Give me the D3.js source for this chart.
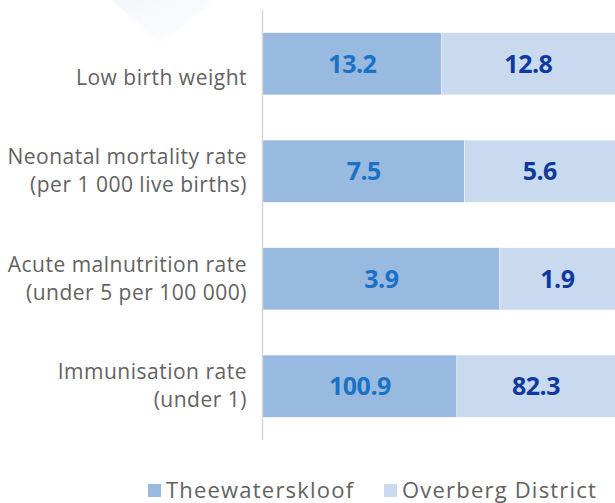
<!DOCTYPE html>
<html>
<head>
<meta charset="utf-8">
<script src="https://cdn.jsdelivr.net/npm/d3@7"></script>
<style>
  body { margin: 0; background: #fff; }
  svg { display: block; }
</style>
</head>
<body>
<div id="chart"></div>
<script>
// indicators (each label split into lines)
const categories = [
  'Low birth weight',
  'Neonatal mortality rate\n(per 1 000 live births)',
  'Acute malnutrition rate\n(under 5 per 100 000)',
  'Immunisation rate\n(under 1)'
];
const seriesNames = ['Theewaterskloof', 'Overberg District'];
const theewaterskloof = [13.2, 7.5, 3.9, 100.9];
const overberg = [12.8, 5.6, 1.9, 82.3];

const barColors = ['#98b9e0', '#c9d9ee'];
const valueColors = ['#1a72c4', '#0f3a9c'];

const width = 615, height = 503;
const axisX = 262.5;

const svg = d3.select('#chart').append('svg')
  .attr('width', width)
  .attr('height', height);

// faint watermark shape top left
const grad = svg.append('defs').append('linearGradient')
  .attr('id', 'wm').attr('x1', '0').attr('y1', '0').attr('x2', '1').attr('y2', '1');
grad.append('stop').attr('offset', '0').attr('stop-color', '#f3f6fa');
grad.append('stop').attr('offset', '1').attr('stop-color', '#ffffff');
svg.append('polygon')
  .attr('points', '112,0 215,0 160,44')
  .attr('fill', 'url(#wm)');

const rows = categories.map((c, i) => ({ cat: c, t: theewaterskloof[i], o: overberg[i] }));

const stack = d3.stack()
  .keys(['t', 'o'])
  .offset(d3.stackOffsetExpand);
const stacked = stack(rows);

const x = d3.scaleLinear().domain([0, 1]).range([263, width]);
const y = d3.scaleBand()
  .domain(categories)
  .range([10, 440])
  .paddingInner(0.425)
  .paddingOuter(0.2125);

const groups = svg.selectAll('g.series')
  .data(stacked)
  .enter().append('g')
  .attr('class', 'series');

groups.selectAll('rect')
  .data((s, si) => s.map(d => ({ d, si })))
  .enter().append('rect')
  .attr('x', e => x(e.d[0]))
  .attr('y', e => y(e.d.data.cat))
  .attr('width', e => x(e.d[1]) - x(e.d[0]))
  .attr('height', y.bandwidth())
  .attr('fill', e => barColors[e.si]);

// thin white split between segments
svg.selectAll('line.split')
  .data(stacked[0])
  .enter().append('line')
  .attr('x1', d => x(d[1])).attr('x2', d => x(d[1]))
  .attr('y1', d => y(d.data.cat)).attr('y2', d => y(d.data.cat) + y.bandwidth())
  .attr('stroke', '#e4ecf7').attr('stroke-width', 1);

groups.selectAll('text')
  .data((s, si) => s.map(d => ({ d, si, v: d.data[s.key] })))
  .enter().append('text')
  .attr('x', e => (x(e.d[0]) + x(e.d[1])) / 2)
  .attr('y', e => y(e.d.data.cat) + y.bandwidth() / 2 + 9)
  .attr('text-anchor', 'middle')
  .attr('font-family', 'Open Sans, sans-serif')
  .attr('font-weight', 'bold')
  .attr('font-size', 25)
  .attr('letter-spacing', -0.5)
  .attr('fill', e => valueColors[e.si])
  .text(e => e.v.toFixed(1));

// category axis line
svg.append('line')
  .attr('x1', axisX).attr('x2', axisX)
  .attr('y1', y.range()[0]).attr('y2', y.range()[1])
  .attr('stroke', '#d6d6d6')
  .attr('stroke-width', 1.5);

// category labels, last line sits a little under the bar centre
const labels = svg.selectAll('text.cat')
  .data(categories)
  .enter().append('text')
  .attr('class', 'cat')
  .attr('text-anchor', 'end')
  .attr('font-family', 'Open Sans, sans-serif')
  .attr('font-size', 21)
  .attr('letter-spacing', 0.5)
  .attr('fill', '#626262');

labels.each(function(c) {
  const lines = c.split('\n');
  const mid = y(c) + y.bandwidth() / 2;
  d3.select(this).selectAll('tspan')
    .data(lines)
    .enter().append('tspan')
    .attr('x', 247)
    .attr('y', (l, i) => mid + 21 - (lines.length - 1 - i) * 28)
    .text(l => l);
});

// legend
const legend = svg.selectAll('g.legend')
  .data(seriesNames)
  .enter().append('g')
  .attr('class', 'legend')
  .attr('transform', (d, i) => `translate(${[148, 384][i]},484)`);

legend.append('rect')
  .attr('width', 13).attr('height', 13)
  .attr('fill', (d, i) => barColors[i]);

legend.append('text')
  .attr('x', 18).attr('y', 13.5)
  .attr('font-family', 'Open Sans, sans-serif')
  .attr('font-size', 22)
  .attr('letter-spacing', 1.2)
  .attr('fill', '#626262')
  .text(d => d);
</script>
</body>
</html>
